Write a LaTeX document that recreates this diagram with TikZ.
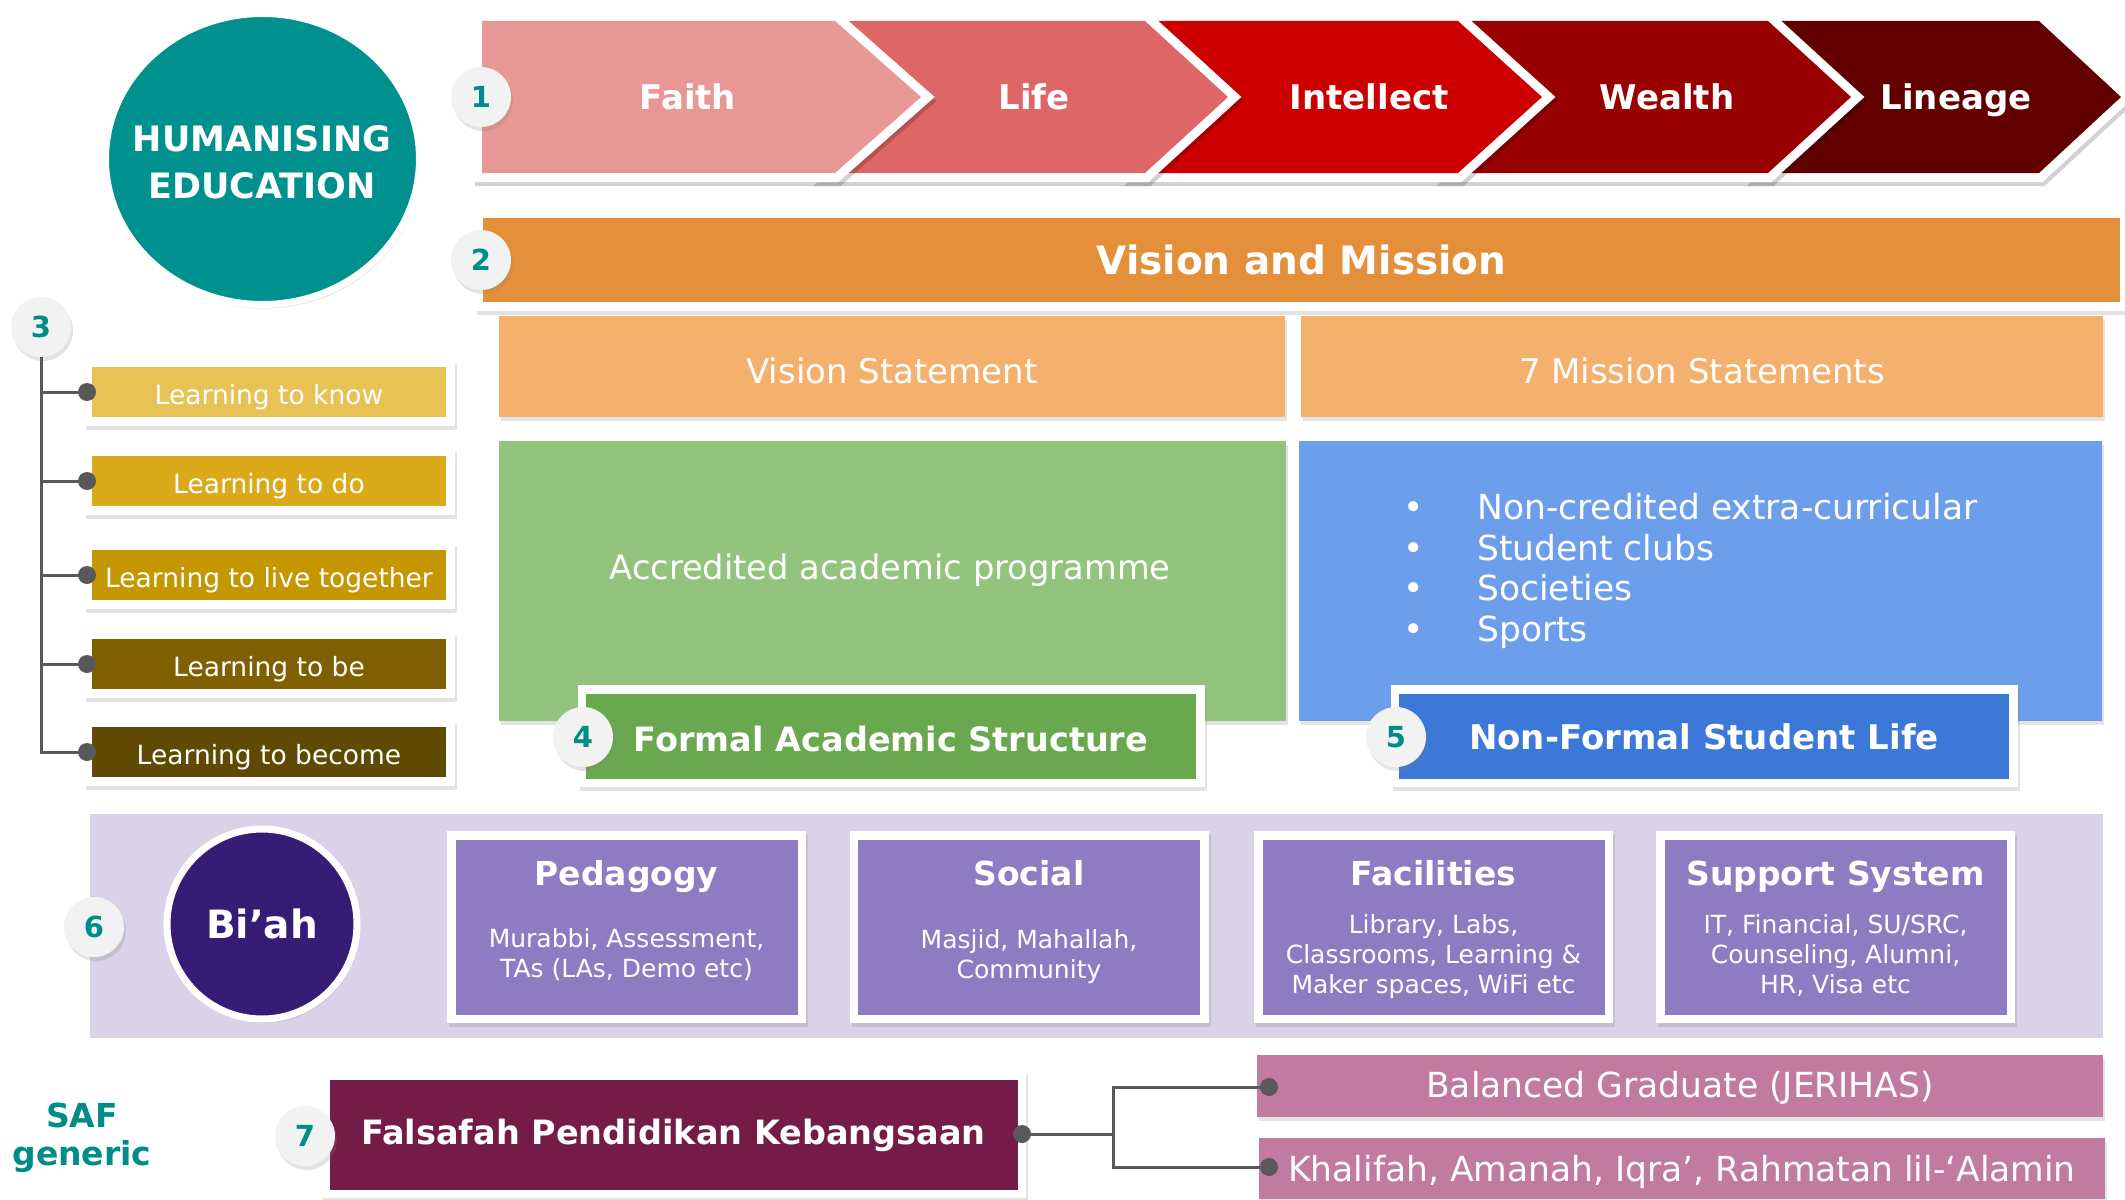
\documentclass[tikz,border=0pt]{standalone}
\usepackage{fontspec}
\setmainfont{DejaVu Sans}
\usetikzlibrary{shadows,shapes.geometric}
\definecolor{cTeal}{RGB}{0,145,143}
\definecolor{numteal}{RGB}{0,140,135}
\definecolor{cFaith}{RGB}{232,151,151}
\definecolor{cLife}{RGB}{222,102,102}
\definecolor{cIntel}{RGB}{204,0,0}
\definecolor{cWealth}{RGB}{153,0,0}
\definecolor{cLineage}{RGB}{98,0,0}
\definecolor{cOrange}{RGB}{228,144,58}
\definecolor{cPeach}{RGB}{244,177,110}
\definecolor{cLGreen}{RGB}{147,196,125}
\definecolor{cGreen}{RGB}{106,168,79}
\definecolor{cLBlue}{RGB}{109,158,235}
\definecolor{cBlue}{RGB}{60,120,216}
\definecolor{cLa}{RGB}{232,194,84}
\definecolor{cLb}{RGB}{219,170,26}
\definecolor{cLc}{RGB}{196,150,0}
\definecolor{cLd}{RGB}{127,96,0}
\definecolor{cLe}{RGB}{96,74,3}
\definecolor{cLav}{RGB}{217,210,233}
\definecolor{cDPurple}{RGB}{53,28,117}
\definecolor{cPurple}{RGB}{142,124,195}
\definecolor{cMaroon}{RGB}{116,27,71}
\definecolor{cPink}{RGB}{194,123,160}
\definecolor{cLine}{RGB}{89,89,89}
\definecolor{cBadge}{RGB}{242,242,242}
\begin{document}
\begin{tikzpicture}[x=1pt,y=-1pt,
  shad/.style={drop shadow={opacity=0.22,shadow xshift=2pt,shadow yshift=-4pt}},
  badge/.style={circle,fill=cBadge,minimum size=60pt,inner sep=0pt,text=numteal,
    font=\bfseries\fontsize{29}{34}\selectfont,shad},
  wbox/.style={rectangle,fill=white,inner sep=0pt,text=white,shad,
    path picture={\fill[#1] ([shift={(8.5pt,8.5pt)}]path picture bounding box.south west)
      rectangle ([shift={(-8.5pt,-8.5pt)}]path picture bounding box.north east);}},
  sbox/.style={rectangle,inner sep=0pt,text=white,shad},
  chevw/.style={draw=white,fill=white,line width=18pt,line join=miter,
    drop shadow={opacity=0.18,draw=black,fill=black,line width=18pt,shadow xshift=2pt,shadow yshift=-4pt}},
  chevtext/.style={text=white,font=\bfseries\fontsize{34}{40}\selectfont,text height=24.8pt,text depth=0pt},
  dot/.style={circle,fill=cLine,minimum size=18pt,inner sep=0pt},
  conn/.style={draw=cLine,line width=3pt}]
\useasboundingbox (0,0) rectangle (2125,1199);
\clip (0,0) rectangle (2125,1199);
\fill[white] (0,0) rectangle (2125,1199);

% ---- teal circle
\node[ellipse,fill=cTeal,draw=white,line width=7pt,minimum width=314pt,minimum height=291pt,inner sep=0pt,shad] (hum) at (262.5,159) {};
\node[text=white,align=center,font=\bfseries\fontsize{35}{47}\selectfont] (humT) at (262,162.5) {HUMANISING\\EDUCATION};

% ---- chevrons (right to left)
\path[chevw] (1768,21) -- (2039,21) -- (2121,97) -- (2039,173) -- (1768,173) -- (1851,97) -- cycle;
\fill[cLineage] (1768,21) -- (2039,21) -- (2121,97) -- (2039,173) -- (1768,173) -- (1851,97) -- cycle;
\path[chevw] (1458,21) -- (1768,21) -- (1851,97) -- (1768,173) -- (1458,173) -- (1542,97) -- cycle;
\fill[cWealth] (1458,21) -- (1768,21) -- (1851,97) -- (1768,173) -- (1458,173) -- (1542,97) -- cycle;
\path[chevw] (1145,21) -- (1458,21) -- (1542,97) -- (1458,173) -- (1145,173) -- (1228,97) -- cycle;
\fill[cIntel] (1145,21) -- (1458,21) -- (1542,97) -- (1458,173) -- (1145,173) -- (1228,97) -- cycle;
\path[chevw] (835,21) -- (1145,21) -- (1228,97) -- (1145,173) -- (835,173) -- (921,97) -- cycle;
\fill[cLife] (835,21) -- (1145,21) -- (1228,97) -- (1145,173) -- (835,173) -- (921,97) -- cycle;
\path[chevw] (482,21) -- (835,21) -- (921,97) -- (835,173) -- (482,173) -- cycle;
\fill[cFaith] (482,21) -- (835,21) -- (921,97) -- (835,173) -- (482,173) -- cycle;
\node[chevtext] (faith) at (688,97.5) {Faith};
\node[chevtext] (life) at (1034,97.5) {Life};
\node[chevtext] (intel) at (1369,97.5) {Intellect};
\node[chevtext] (wealth) at (1667,97.5) {Wealth};
\node[chevtext] (lineage) at (1956,97.5) {Lineage};

% ---- vision and mission
\node[wbox=cOrange,minimum width=1654pt,minimum height=101pt,
  font=\bfseries\fontsize{39}{46}\selectfont,text height=28.5pt,text depth=0pt] (vm) at (1301.5,260) {Vision and Mission};
\node[sbox,fill=cPeach,minimum width=786pt,minimum height=101pt,font=\fontsize{34}{40}\selectfont,
  text height=33.8pt,text depth=0pt] (vis) at (892,366.5) {Vision Statement};
\node[sbox,fill=cPeach,minimum width=802pt,minimum height=101pt,font=\fontsize{34}{40}\selectfont,
  text height=33.8pt,text depth=0pt] (mis) at (1702,366.5) {7 Mission Statements};

% ---- formal / non-formal
\node[sbox,fill=cLGreen,minimum width=787pt,minimum height=280pt] (acad) at (892.5,581) {};
\node[text=white,font=\fontsize{33.7}{40}\selectfont,text height=24.6pt,text depth=0pt] (acadT) at (890,567) {Accredited academic programme};
\node[sbox,fill=cLBlue,minimum width=803pt,minimum height=280pt] (nonacad) at (1700.5,581) {};
\node[text=white,anchor=north west,inner sep=0pt,align=left,font=\fontsize{34.5}{40.7}\selectfont] (nonT) at (1403,493)
 {\makebox[74pt][l]{•}Non-credited extra-curricular\\\makebox[74pt][l]{•}Student clubs\\\makebox[74pt][l]{•}Societies\\\makebox[74pt][l]{•}Sports};
\node[wbox=cGreen,minimum width=627pt,minimum height=102pt,font=\bfseries\fontsize{33.5}{40}\selectfont,
  text height=30.5pt,text depth=0pt] (fas) at (891,736) {Formal Academic Structure};
\node[wbox=cBlue,minimum width=627pt,minimum height=102pt,font=\bfseries\fontsize{34}{40}\selectfont,
  text height=26.8pt,text depth=0pt] (nfs) at (1704,736) {Non-Formal Student Life};

% ---- learning pillars
\tikzset{lbox/.style={wbox=#1,minimum width=371pt,minimum height=67pt,
  font=\fontsize{26.5}{31}\selectfont,text height=25.3pt,text depth=0pt}}
\node[lbox=cLa] (la) at (269,392) {Learning to know};
\node[lbox=cLb] (lb) at (269,481) {Learning to do};
\node[lbox=cLc] (lc) at (269,575) {Learning to live together};
\node[lbox=cLd] (ld) at (269,664) {Learning to be};
\node[lbox=cLe] (le) at (269,752) {Learning to become};
\node[badge] (b3) at (41,327) {3};
\node[dot] (da) at (87,392) {};
\node[dot] (db) at (87,481) {};
\node[dot] (dc) at (87,575) {};
\node[dot] (dd) at (87,664) {};
\node[dot] (de) at (87,752) {};
\draw[conn] (b3.south) |- (da.center);
\draw[conn] (b3.south) |- (db.center);
\draw[conn] (b3.south) |- (dc.center);
\draw[conn] (b3.south) |- (dd.center);
\draw[conn] (b3.south) |- (de.center);

% ---- bi'ah band
\node[rectangle,fill=cLav,minimum width=2013pt,minimum height=224pt,inner sep=0pt] (band) at (1096.5,926) {};
\node[circle,fill=cDPurple,draw=white,line width=7pt,minimum size=190pt,inner sep=0pt,text=white,
  font=\bfseries\fontsize{39}{46}\selectfont,text height=28.5pt,text depth=0pt,shad] (biah) at (262,924) {Bi’ah};
\tikzset{pbox/.style={wbox=cPurple,minimum width=359pt,minimum height=192pt},
  ptitle/.style={text=white,font=\bfseries\fontsize{33}{40}\selectfont,text height=24.1pt,text depth=0pt},
  psub/.style={text=white,align=center,font=\fontsize{25}{30}\selectfont}}
\node[pbox] (ped) at (626.5,927) {};
\node[pbox] (soc) at (1029,927) {};
\node[pbox] (fac) at (1433.5,927) {};
\node[pbox] (sup) at (1835.5,927) {};
\node[ptitle] (pedT) at (626.5,873.5) {Pedagogy};
\node[ptitle] (socT) at (1029,873.5) {Social};
\node[ptitle] (facT) at (1433.5,873.5) {Facilities};
\node[ptitle] (supT) at (1835.5,873.5) {Support System};
\node[psub] (pedS) at (626.5,955) {Murabbi, Assessment,\\TAs (LAs, Demo etc)};
\node[psub] (socS) at (1029,956.5) {Masjid, Mahallah,\\Community};
\node[psub] (facS) at (1433.5,956.5) {Library, Labs,\\Classrooms, Learning \&\\Maker spaces, WiFi etc};
\node[psub] (supS) at (1835.5,955) {IT, Financial, SU/SRC,\\Counseling, Alumni,\\HR, Visa etc};

% ---- SAF generic
\node[text=numteal,align=center,font=\bfseries\fontsize{33}{38}\selectfont] (saf) at (82,1138) {SAF\\generic};
\node[wbox=cMaroon,minimum width=705pt,minimum height=127pt,font=\bfseries\fontsize{33.5}{40}\selectfont,
  text height=20.5pt,text depth=0pt] (fpk) at (673.5,1134.5) {Falsafah Pendidikan Kebangsaan};
\node[sbox,fill=cPink,minimum width=846pt,minimum height=62pt,font=\fontsize{34.5}{40}\selectfont,
  text height=23.2pt,text depth=0pt] (bgr) at (1680,1086) {Balanced Graduate (JERIHAS)};
\node[sbox,fill=cPink,minimum width=846pt,minimum height=61pt,font=\fontsize{34.5}{40}\selectfont,
  text height=25.2pt,text depth=0pt] (kha) at (1682,1168.5) {Khalifah, Amanah, Iqra’, Rahmatan lil-‘Alamin};
\node[dot] (d7) at (1022,1134) {};
\coordinate (jn) at (1113,1134);
\node[dot] (e1) at (1269,1087) {};
\node[dot] (e2) at (1269,1167) {};
\draw[conn] (d7.center) -- (jn) |- (e1.center);
\draw[conn] (jn) |- (e2.center);

% ---- badges
\node[badge] (b1) at (481,97) {1};
\node[badge] (b2) at (481,260) {2};
\node[badge] (b4) at (583,737) {4};
\node[badge] (b5) at (1396,737) {5};
\node[badge] (b6) at (94,927) {6};
\node[badge] (b7) at (305,1136) {7};
\end{tikzpicture}
\end{document}
